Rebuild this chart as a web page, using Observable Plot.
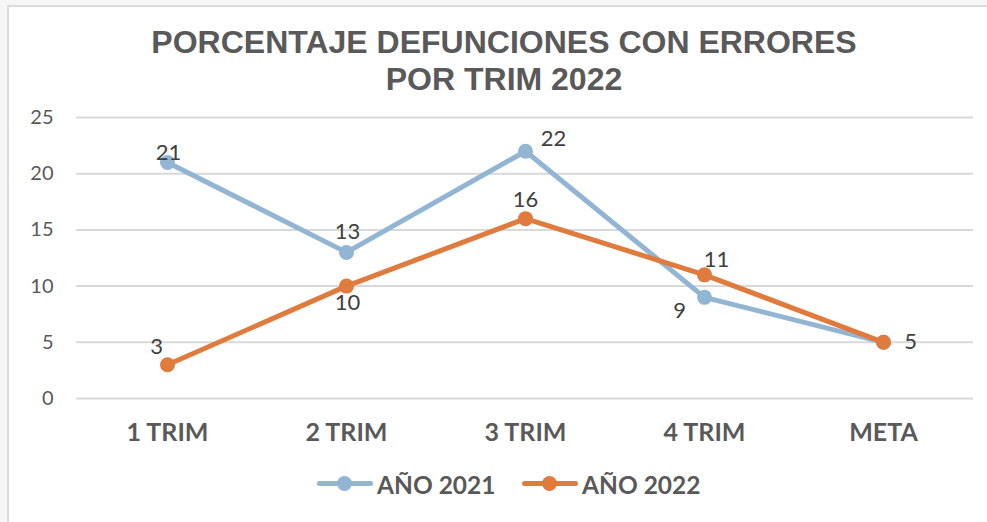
<!DOCTYPE html>
<html>
<head>
<meta charset="utf-8">
<script src="https://cdn.jsdelivr.net/npm/d3@7"></script>
<script src="https://cdn.jsdelivr.net/npm/@observablehq/plot@0.6"></script>
<style>
  html, body { margin: 0; padding: 0; }
  body { width: 987px; height: 522px; overflow: hidden; background: #f6f6f6; position: relative; font-family: Lato, "Open Sans", sans-serif; }
  #frame { position: absolute; left: 7px; top: 5px; width: 1000px; height: 540px; background: #fff; border: 2px solid #dcdcdc; box-sizing: border-box; }
  #title { position: absolute; left: 0; top: 24px; width: 1008px; text-align: center; font-family: "Liberation Sans", Arial, sans-serif; font-weight: bold; font-size: 32px; line-height: 37px; color: #595959; }
  #chart { position: absolute; left: 0; top: 0; }
  #legend { position: absolute; left: 0; top: 466px; width: 987px; height: 36px; }
  .item { position: absolute; top: 0; height: 36px; display: flex; align-items: center; font-family: Lato, sans-serif; font-weight: bold; font-size: 24.5px; color: #595959; }
  .sw { position: relative; width: 56px; height: 36px; margin-right: 4px; }
  .sw .ln { position: absolute; left: 0; right: 0; top: 15px; height: 5px; border-radius: 3px; }
  .sw .dt { position: absolute; left: 20px; top: 10px; width: 15px; height: 15px; border-radius: 50%; }
</style>
</head>
<body>
<div id="frame"></div>
<div id="chart"></div>
<div id="title">PORCENTAJE DEFUNCIONES CON ERRORES<br>POR TRIM 2022</div>
<div id="legend"></div>
<script>
const categories = ["1 TRIM", "2 TRIM", "3 TRIM", "4 TRIM", "META"];
const seriesNames = ["AÑO 2021", "AÑO 2022"];
const values2021 = [21, 13, 22, 9, 5];
const values2022 = [3, 10, 16, 11, 5];
const yTicks = [0, 5, 10, 15, 20, 25];
const seriesColors = ["#93b5d4", "#e07b3e"];

const seriesValues = [values2021, values2022];
const data = seriesNames.flatMap((s, i) =>
  categories.map((c, j) => ({ series: s, cat: c, value: seriesValues[i][j], si: i, ci: j }))
);

// label placement (Excel-like: above / right / left / below)
const offsets = {
  "0-0": [1, -10], "0-1": [1, -20], "0-2": [28, -12], "0-3": [-25, 14], "0-4": [27, 0],
  "1-0": [-11, -18], "1-1": [1, 17], "1-2": [0, -19], "1-3": [12, -15]
};
const labels = data.filter(d => offsets[`${d.si}-${d.ci}`]).map(d => {
  const o = offsets[`${d.si}-${d.ci}`];
  return { ...d, dx: o[0], dy: o[1] };
});

const font = "Lato, 'Open Sans', sans-serif";

const marks = [
  Plot.ruleY(yTicks, { stroke: "#d9d9d9", strokeWidth: 2 }),
  Plot.axisY({ ticks: yTicks, tickSize: 0, tickPadding: 23, fontSize: 20, fill: "#595959", label: null, fontFamily: font }),
  Plot.axisX({ tickSize: 0, tickPadding: 25, fontSize: 25, fontWeight: "bold", fill: "#595959", label: null, fontFamily: font })
];
seriesNames.forEach((s, i) => {
  const d = data.filter(r => r.si === i);
  marks.push(Plot.line(d, { x: "cat", y: "value", stroke: seriesColors[i], strokeWidth: 5, strokeLinejoin: "round", strokeLinecap: "round" }));
  marks.push(Plot.dot(d, { x: "cat", y: "value", r: 7.5, fill: seriesColors[i], stroke: "none" }));
});
labels.forEach(l => {
  marks.push(Plot.text([l], { x: "cat", y: "value", text: d => String(d.value), dx: l.dx, dy: l.dy, fontSize: 22, fill: "#404040", fontFamily: font }));
});

const chart = Plot.plot({
  width: 987,
  height: 522,
  marginLeft: 76,
  marginRight: 14,
  marginTop: 117,
  marginBottom: 124,
  x: { type: "point", domain: categories, padding: 0.5, axis: null },
  y: { domain: [0, 25], axis: null },
  style: { background: "transparent", overflow: "visible" },
  marks
});
document.getElementById("chart").appendChild(chart);

const legend = document.getElementById("legend");
const legendLefts = [317, 522];
seriesNames.forEach((s, i) => {
  const it = document.createElement("div");
  it.className = "item";
  it.style.left = legendLefts[i] + "px";
  it.innerHTML = `<div class="sw"><div class="ln" style="background:${seriesColors[i]}"></div><div class="dt" style="background:${seriesColors[i]}"></div></div><span>${s}</span>`;
  legend.appendChild(it);
});
</script>
</body>
</html>
